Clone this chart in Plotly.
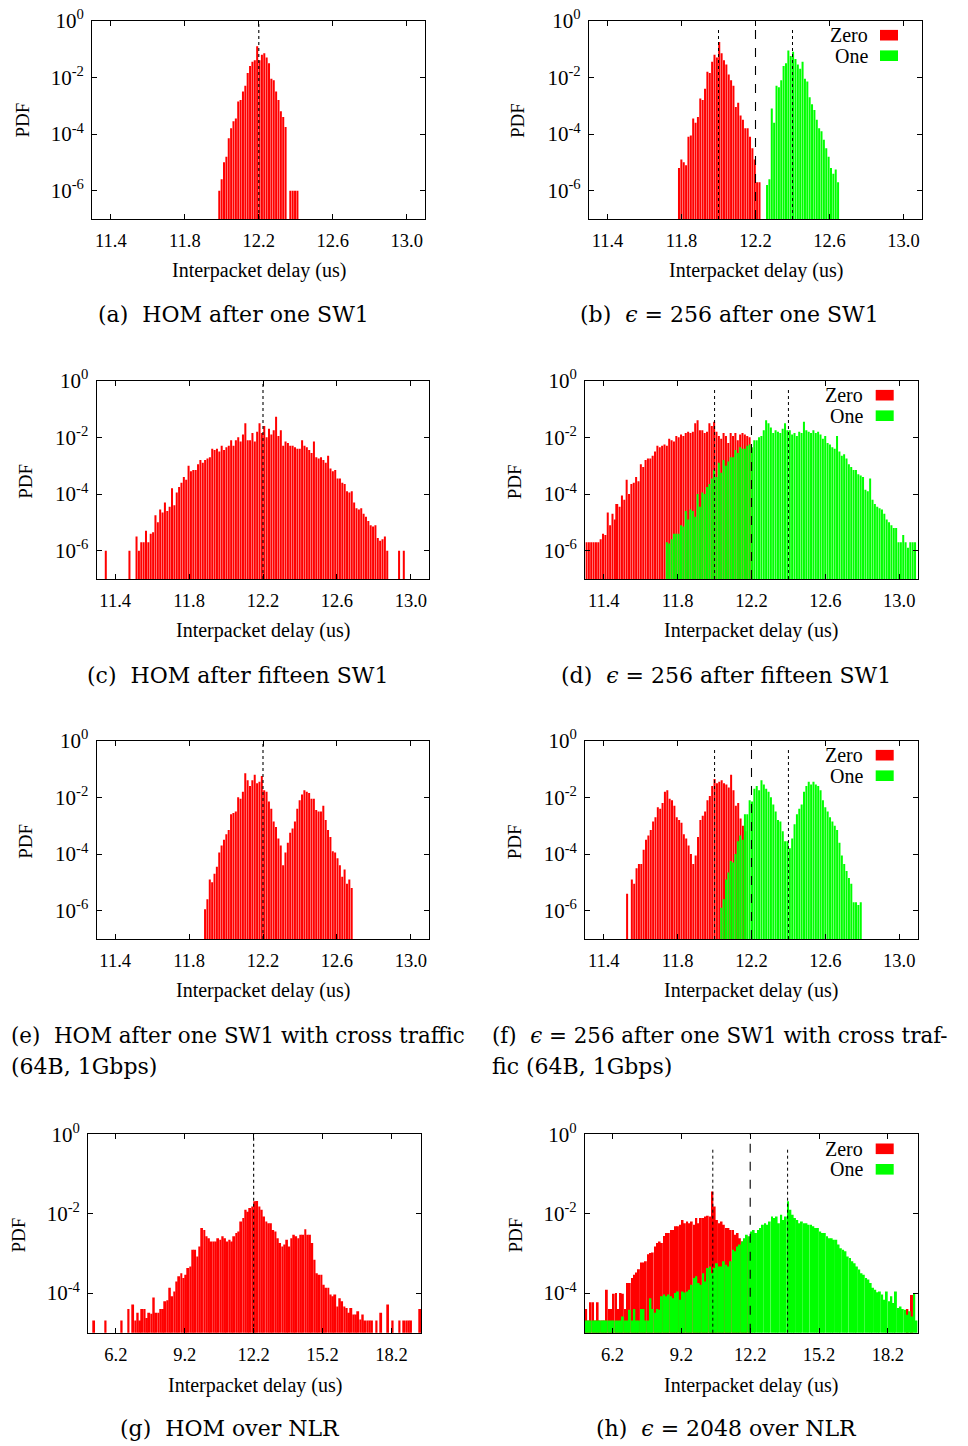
import plotly.graph_objects as go

W, H = 968, 1446
OFF = 8  # page body margin of the browser, compensated in the pixel layout below
RED = "#ff0000"
GREEN = "#00ff00"
SERIF = "Liberation Serif"
XTICK_FONT = dict(family=SERIF, size=18.5, color="black")
YTICK_FONT = dict(family=SERIF, size=21, color="black")
TITLE_FONT = dict(family=SERIF, size=20, color="black")
PDF_FONT = dict(family=SERIF, size=19, color="black")
LEG_FONT = dict(family=SERIF, size=20, color="black")
CAP_FONT = dict(family="DejaVu Serif", size=22, color="black")
CAP_FONT_TIGHT = dict(family="DejaVu Serif", size=21.4, color="black")

# bin widths (us)
SW_BIN = 0.0128
NLR_BIN = 0.1

SW_XTICKS = [11.4, 11.8, 12.2, 12.6, 13.0]
NLR_XTICKS = [6.2, 9.2, 12.2, 15.2, 18.2]
SW_YEXP = [0, -2, -4, -6]
NLR_YEXP = [0, -2, -4]

# ---------------- data: log10(PDF) per bin ----------------
# (a) HOM after one SW1
a_start = 11.98
a_log = [-6.0, -5.6, -5.0, -4.8, -4.15, -3.8, -3.55, -3.45, -2.85, -2.8, -2.5, -2.3,
         -1.85, -1.6, -1.45, -1.4, -0.9, -1.4, -1.2, -1.15, -1.3, -1.5, -2.05, -2.1,
         -2.5, -2.8, -3.2, -3.4, -3.75, None, -6.0, -6.0, -6.0, -6.0]

# (b) eps=256 after one SW1
b_zero_start = 11.78
b_zero_log = [-5.2, -4.9, -5.0, -5.1, -4.1, -4.05, -3.45, -3.6, -3.4, -2.75, -2.8, -2.4,
              -1.8, -1.85, -1.45, -1.2, -1.3, -0.75, -1.15, -1.4, -1.55, -1.9, -2.1, -2.3,
              -3.05, -2.9, -3.35, -3.5, -3.8, -3.8, -4.1, -4.5, -4.9, -5.7, -5.7]
b_one_start = 12.256
b_one_log = [-5.8, -5.6, -3.1, -3.6, -2.3, -2.35, -2.1, -1.6, -1.5, -1.05, -1.25, -1.1,
             -1.35, -1.55, -1.7, -1.45, -2.05, -2.15, -2.7, -2.95, -3.15, -3.5, -3.8, -3.9,
             -4.2, -4.5, -4.8, -5.2, -5.4, -5.25, -5.7]

# (c) HOM after fifteen SW1
c_start = 11.33
c_log = [None, -6.0, None, None, None, None, None, None, None, None, None, -6.0,
         None, None, -5.5, -6.0, -5.7, -5.7, -5.3, -5.7, -5.4, -5.35, -4.75, -5.0,
         -4.55, -4.65, -4.3, -4.6, -4.45, -3.8, -4.4, -3.95, -3.75, -3.6, -3.4, -3.5,
         -3.0, -3.2, -3.15, -3.15, -2.95, -2.8, -2.9, -2.8, -2.75, -2.7, -2.4, -2.45,
         -2.4, -2.5, -2.3, -2.45, -2.35, -2.3, -2.1, -2.3, -2.1, -2.0, -2.15, -1.9,
         -1.5, -2.1, -2.1, -1.85, -2.15, -1.8, -1.5, -1.85, -1.6, -2.0, -1.7, -1.9,
         -1.75, -1.27, -1.95, -1.75, -2.3, -2.15, -2.2, -2.3, -2.3, -2.35, -2.4, -2.4,
         -2.1, -2.3, -2.35, -2.45, -2.55, -2.15, -2.7, -2.75, -2.7, -2.8, -2.9, -2.65,
         -3.1, -3.2, -3.15, -3.45, -3.45, -3.6, -3.65, -3.9, -3.95, -3.9, -4.3, -4.5,
         -4.55, -4.5, -4.7, -4.8, -4.95, -5.1, -5.15, -5.1, -5.55, -5.65, -5.6, -5.5,
         -6.0, None, None, None, None, -6.0, None, -6.0]

# (d) eps=256 after fifteen SW1
d_zero_start = 11.30
d_zero_log = [-5.7, -5.7, -5.7, -5.7, -5.7, -5.7, -5.6, -5.4, -5.45, -4.65, -5.1, -4.7,
              -4.9, -4.35, -4.45, -4.05, -4.2, -3.5, -4.0, -3.65, -3.6, -3.4, -3.55, -2.95,
              -3.05, -2.8, -2.75, -2.75, -2.65, -2.5, -2.3, -2.35, -2.3, -2.25, -2.3, -2.05,
              -2.1, -2.15, -1.95, -2.0, -1.9, -1.95, -1.85, -1.8, -1.85, -1.8, -1.5, -1.4,
              -1.75, -1.75, -1.85, -1.8, -1.5, -1.6, -1.45, -1.8, -1.95, -2.05, -1.85, -1.95,
              -2.2, -1.85, -1.95, -1.85, -2.1, -1.9, -1.85, -1.9, -1.95, -2.0, -2.4]
d_one_start = 11.7352
d_one_log = [-5.7, -5.75, -5.6, -5.4, -5.4, -5.4, -5.1, -5.15, -4.6, -4.9, -4.55, -4.6,
             -4.8, -4.0, -4.45, -3.95, -4.0, -3.75, -3.65, -3.45, -3.15, -3.4, -2.9, -3.25,
             -2.8, -3.0, -2.85, -2.7, -2.7, -2.45, -2.55, -2.35, -2.4, -2.4, -2.3, -2.25,
             -2.35, -2.1, -2.1, -2.0, -1.95, -1.75, -1.4, -1.5, -1.65, -1.85, -1.75, -1.8,
             -1.85, -1.7, -1.5, -1.75, -1.75, -1.9, -1.85, -1.95, -1.8, -1.85, -1.45, -1.75,
             -1.8, -1.85, -1.75, -1.85, -1.8, -1.9, -2.05, -1.95, -2.2, -2.25, -2.35, -2.4,
             -1.95, -2.5, -2.65, -2.6, -2.75, -2.95, -3.05, -3.15, -3.15, -3.3, -3.35, -3.4,
             -3.85, -3.9, -3.45, -4.2, -4.35, -4.45, -4.5, -4.55, -4.7, -4.9, -5.0, -5.1,
             -5.2, -5.2, -5.7, -5.7, -5.45, -5.7, -5.9, -5.7, -5.7, -5.7]

# (e) HOM after one SW1 with cross traffic
e_start = 11.88
e_log = [-5.95, -5.6, -4.9, -5.0, -4.7, -4.45, -3.95, -3.7, -3.5, -3.3, -3.15, -2.6,
         -2.55, -2.5, -2.0, -2.05, -1.8, -1.15, -1.4, -1.6, -1.4, -1.2, -1.5, -1.45,
         -1.25, -1.75, -1.8, -2.15, -2.4, -2.85, -3.05, -3.45, -3.7, -4.4, -3.95, -3.6,
         -3.25, -3.1, -2.85, -2.4, -2.1, -1.9, -1.75, -1.8, -1.85, -2.05, -2.05, -2.45,
         -2.5, -2.5, -2.3, -2.8, -3.15, -3.4, -3.9, -3.95, -4.15, -4.4, -4.8, -4.55,
         -5.05, -4.9, -5.2]

# (f) eps=256 after one SW1 with cross traffic
f_zero_start = 11.52
f_zero_log = [-5.4, None, -4.9, -5.05, -4.5, -4.35, -4.35, -3.85, -3.5, -3.35, -3.15, -2.85,
              -2.7, -2.35, -2.4, -2.2, -1.8, -1.75, -2.05, -2.1, -2.3, -2.7, -2.8, -2.9,
              -3.3, -3.45, -3.7, -4.0, -4.35, -4.05, -3.4, -2.8, -2.65, -2.5, -2.1, -1.95,
              -1.6, -1.35, -1.5, -1.45, -1.4, -1.5, -1.55, -1.65, -1.2, -1.75, -2.3, -2.2,
              -2.75, -3.0, -3.2]
f_one_start = 12.03
f_one_log = [-5.9, -5.6, -4.9, -4.65, -4.25, -4.3, -4.0, -3.55, -3.35, -3.5, -2.6, -2.6,
             -2.1, -2.15, -1.7, -1.6, -1.75, -1.4, -1.55, -1.7, -1.8, -2.0, -2.25, -2.5,
             -2.8, -2.85, -3.2, -3.55, -3.55, -3.8, -3.45, -2.95, -2.6, -2.4, -2.25, -1.8,
             -1.6, -1.45, -1.55, -1.45, -1.55, -1.6, -1.75, -2.1, -2.35, -2.5, -2.7, -2.85,
             -3.0, -3.15, -3.6, -4.05, -4.35, -4.6, -4.85, -5.05, -5.7, -5.7, -5.8, -5.7]

# (g) HOM over NLR
g_start = 5.0
g_log = [None, None, -4.69, None, None, None, None, -4.69, None, None, None, None,
         None, None, -4.69, None, None, -4.40, None, -4.29, -4.69, -4.50, -4.69, -4.40,
         -4.40, -4.63, -4.50, -4.52, -4.11, -4.50, -4.50, -4.40, -4.40, -4.21, -4.18, -3.87,
         -4.08, -3.96, -3.71, -3.58, -3.50, -3.62, -3.54, -3.37, -3.33, -2.91, -2.91, -3.08,
         -2.83, -2.36, -2.41, -2.57, -2.62, -2.70, -2.70, -2.70, -2.62, -2.66, -2.57, -2.62,
         -2.70, -2.66, -2.70, -2.57, -2.49, -2.45, -2.20, -2.11, -1.90, -1.95, -1.86, -1.82,
         -1.69, -1.68, -1.82, -1.90, -2.07, -2.20, -2.24, -2.24, -2.41, -2.45, -2.62, -2.74,
         -2.83, -2.78, -2.66, -2.83, -2.62, -2.53, -2.57, -2.62, -2.53, -2.53, -2.39, -2.53,
         -2.53, -2.74, -3.16, -3.50, -3.54, -3.54, -3.79, -3.87, -3.87, -4.04, -4.08, -4.04,
         -4.34, -4.13, -4.21, -4.34, -4.38, -4.50, -4.38, -4.54, -4.54, -4.46, -4.67, -4.54,
         -4.69, -4.69, -4.69, -4.69, None, -4.69, None, -4.50, None, None, -4.29, None,
         -4.69, None, None, -4.69, None, -4.69, -4.69, -4.69, -4.69, None, None, None,
         -4.40]

# (h) eps=2048 over NLR
h_zero_start = 5.0
h_zero_log = [-4.40, -4.69, -4.23, -4.23, -4.69, -4.23, -4.69, -4.69, -4.69, -3.92, -4.40, -4.40,
              -4.02, -4.00, -4.40, -4.00, -4.02, -4.40, -3.75, -3.75, -3.62, -3.54, -3.48, -3.40,
              -3.23, -3.23, -3.20, -3.02, -2.99, -2.98, -2.83, -2.74, -2.70, -2.74, -2.56, -2.49,
              -2.49, -2.41, -2.41, -2.32, -2.32, -2.28, -2.16, -2.24, -2.20, -2.24, -2.20, -2.28,
              -2.11, -2.24, -2.11, -2.11, -2.07, -2.05, -2.07, -1.44, -1.82, -2.16, -2.24, -2.20,
              -2.28, -2.36, -2.36, -2.41, -2.41, -2.53, -2.49, -2.62, -2.70, -2.78, -2.57, -2.70]
h_zero_tail_start = 19.0
h_zero_tail_log = [-4.40, None, -4.05]
h_one_start = 5.0
h_one_log = [-4.69, -4.69, -4.69, -4.69, -4.69, -4.69, -4.69, -4.69, -4.69, -4.69, -4.69, -4.69,
             -4.69, -4.69, -4.69, -4.69, -4.59, -4.69, -4.69, -4.42, -4.69, -4.40, -4.69, -4.69,
             -4.40, -4.40, -4.69, -4.69, -4.13, -4.40, -4.50, -4.40, -4.42, -4.08, -4.04, -4.08,
             -4.04, -4.08, -4.13, -4.00, -3.96, -4.17, -3.96, -3.99, -3.96, -3.92, -3.79, -3.62,
             -3.58, -3.75, -3.79, -3.50, -3.71, -3.37, -3.33, -3.50, -3.37, -3.25, -3.33, -3.33,
             -3.20, -3.29, -3.33, -3.20, -2.91, -2.95, -2.83, -2.78, -2.70, -2.62, -2.53, -2.57,
             -2.45, -2.41, -2.49, -2.41, -2.36, -2.28, -2.24, -2.28, -2.20, -2.07, -2.11, -2.07,
             -2.24, -2.03, -2.16, -2.07, -1.69, -1.90, -2.03, -2.11, -2.16, -2.24, -2.20, -2.24,
             -2.24, -2.28, -2.28, -2.32, -2.36, -2.36, -2.45, -2.49, -2.49, -2.57, -2.62, -2.62,
             -2.66, -2.66, -2.78, -2.87, -2.91, -2.95, -3.08, -3.12, -3.20, -3.25, -3.33, -3.41,
             -3.50, -3.54, -3.62, -3.66, -3.75, -3.87, -3.92, -3.98, -3.96, -4.04, -4.17, -3.96,
             -4.21, -4.08, -4.25, -3.96, -4.38, -4.34, -4.40, -4.42, -4.55, -4.46, -4.59, -4.00,
             -4.69]

# vertical reference lines (us)
SW_CENTER = [12.2]
SW_SIDES = [12.0, 12.4]
NLR_CENTER = [12.2]
NLR_SIDES = [10.57, 13.83]

# ---------------- layout of the 8 panels (pixel boxes: left, top, right, bottom) ----------------
PANELS = [
    dict(box=(92.3, 20.7, 425.3, 219.0), xrange=[11.3, 13.1], xticks=SW_XTICKS, yrange=[-7, 0], yexp=SW_YEXP,
         series=[(a_start, SW_BIN, a_log, RED)], center=SW_CENTER, center_dash="dot", sides=[], side_top=1.0,
         legend=False, ytitle=(22.5, 120), xtitle=(259, 270.7),
         caption=[("(a)\u00a0\u00a0HOM after one SW1", 233.5, 314, "center", CAP_FONT)]),
    dict(box=(589.0, 20.7, 922.0, 219.0), xrange=[11.3, 13.1], xticks=SW_XTICKS, yrange=[-7, 0], yexp=SW_YEXP,
         series=[(b_zero_start, SW_BIN, b_zero_log, RED), (b_one_start, SW_BIN, b_one_log, GREEN)],
         center=SW_CENTER, center_dash="dash", sides=SW_SIDES, side_top=0.957,
         legend=True, ytitle=(518, 120), xtitle=(755.5, 270.7),
         caption=[("(b)\u00a0\u00a0<i>\u03f5</i> = 256 after one SW1", 729.5, 314, "center", CAP_FONT)]),
    dict(box=(96.7, 380.7, 429.3, 579.0), xrange=[11.3, 13.1], xticks=SW_XTICKS, yrange=[-7, 0], yexp=SW_YEXP,
         series=[(c_start, SW_BIN, c_log, RED)], center=SW_CENTER, center_dash="dot", sides=[], side_top=1.0,
         legend=False, ytitle=(26, 481.7), xtitle=(263, 630.7),
         caption=[("(c)\u00a0\u00a0HOM after fifteen SW1", 237, 675, "center", CAP_FONT)]),
    dict(box=(585.3, 380.7, 917.7, 579.0), xrange=[11.3, 13.1], xticks=SW_XTICKS, yrange=[-7, 0], yexp=SW_YEXP,
         series=[(d_zero_start, SW_BIN, d_zero_log, RED), (d_one_start, SW_BIN, d_one_log, GREEN)],
         center=SW_CENTER, center_dash="dash", sides=SW_SIDES, side_top=0.957,
         legend=True, ytitle=(514.5, 481.7), xtitle=(751, 630.7),
         caption=[("(d)\u00a0\u00a0<i>\u03f5</i> = 256 after fifteen SW1", 725.5, 675, "center", CAP_FONT)]),
    dict(box=(96.7, 740.7, 429.3, 939.0), xrange=[11.3, 13.1], xticks=SW_XTICKS, yrange=[-7, 0], yexp=SW_YEXP,
         series=[(e_start, SW_BIN, e_log, RED)], center=SW_CENTER, center_dash="dot", sides=[], side_top=1.0,
         legend=False, ytitle=(26, 841.7), xtitle=(263, 990.7),
         caption=[("(e)\u00a0\u00a0HOM after one SW1 with cross traffic", 8.5, 1035, "left", CAP_FONT_TIGHT),
                  ("(64B, 1Gbps)", 8.5, 1066.7, "left", CAP_FONT)]),
    dict(box=(585.3, 740.7, 917.7, 939.0), xrange=[11.3, 13.1], xticks=SW_XTICKS, yrange=[-7, 0], yexp=SW_YEXP,
         series=[(f_zero_start, SW_BIN, f_zero_log, RED), (f_one_start, SW_BIN, f_one_log, GREEN)],
         center=SW_CENTER, center_dash="dash", sides=SW_SIDES, side_top=0.957,
         legend=True, ytitle=(514.5, 841.7), xtitle=(751, 990.7),
         caption=[("(f)\u00a0\u00a0<i>\u03f5</i> = 256 after one SW1 with cross traf-", 490, 1035, "left",
                   CAP_FONT_TIGHT),
                  ("fic (64B, 1Gbps)", 490, 1066.7, "left", CAP_FONT)]),
    dict(box=(88.3, 1134.3, 421.3, 1332.7), xrange=[5.0, 19.5], xticks=NLR_XTICKS, yrange=[-5, 0], yexp=NLR_YEXP,
         series=[(g_start, NLR_BIN, g_log, RED)], center=NLR_CENTER, center_dash="dot", sides=[], side_top=1.0,
         legend=False, ytitle=(17.5, 1235), xtitle=(254.7, 1385),
         caption=[("(g)\u00a0\u00a0HOM over NLR", 230, 1428, "center", CAP_FONT)]),
    dict(box=(585.0, 1134.3, 917.7, 1332.7), xrange=[5.0, 19.5], xticks=NLR_XTICKS, yrange=[-5, 0], yexp=NLR_YEXP,
         series=[(h_zero_start, NLR_BIN, h_zero_log, RED), (h_zero_tail_start, NLR_BIN, h_zero_tail_log, RED),
                 (h_one_start, NLR_BIN, h_one_log, GREEN)],
         center=NLR_CENTER, center_dash="dash", sides=NLR_SIDES, side_top=0.934,
         legend=True, ytitle=(514.5, 1235), xtitle=(751, 1385),
         caption=[("(h)\u00a0\u00a0<i>\u03f5</i> = 2048 over NLR", 726.5, 1428, "center", CAP_FONT)]),
]


def px(x):
    return (x - OFF) / W


def py(y):
    return 1 - (y - OFF) / H


fig = go.Figure()
layout = dict(width=W, height=H, margin=dict(l=0, r=0, t=0, b=0, pad=0),
              paper_bgcolor="white", plot_bgcolor="white", barmode="overlay",
              showlegend=False, font=XTICK_FONT)
shapes, annotations = [], []

for k, p in enumerate(PANELS, start=1):
    sx = "" if k == 1 else str(k)
    xa, ya = "x" + sx, "y" + sx
    l, t, r, b = p["box"]
    common = dict(showline=True, linecolor="black", linewidth=1.3, mirror="ticks", ticks="inside",
                  ticklen=5, tickwidth=1, tickcolor="black", showgrid=False, zeroline=False,
                  automargin=False, fixedrange=True, ticklabeloverflow="allow")
    layout["xaxis" + sx] = dict(domain=[px(l), px(r)], anchor=ya, range=p["xrange"],
                                tickvals=p["xticks"], ticktext=[f"{v:.1f}" for v in p["xticks"]],
                                tickfont=XTICK_FONT, ticklabelstandoff=5, **common)
    layout["yaxis" + sx] = dict(domain=[py(b), py(t)], anchor=xa, type="log", range=p["yrange"],
                                tickvals=[10.0 ** e for e in p["yexp"]],
                                ticktext=[f"10<sup>{e}</sup>" for e in p["yexp"]],
                                tickfont=YTICK_FONT, ticklabelstandoff=3, **common)
    for start, bw, logs, color in p["series"]:
        xs = [start + bw * (i + 0.5) for i, v in enumerate(logs) if v is not None]
        ys = [10.0 ** v for v in logs if v is not None]
        fig.add_trace(go.Bar(x=xs, y=ys, width=bw * 0.85, xaxis=xa, yaxis=ya,
                             marker=dict(color=color, line=dict(width=0)), hoverinfo="skip"))
    yd = ya + " domain"
    for v in p["center"]:
        shapes.append(dict(type="line", xref=xa, yref=yd, x0=v, x1=v, y0=0, y1=1,
                           line=dict(color="black", width=1.1, dash=p["center_dash"])))
    for v in p["sides"]:
        shapes.append(dict(type="line", xref=xa, yref=yd, x0=v, x1=v, y0=0, y1=p["side_top"],
                           line=dict(color="black", width=1.0, dash="dot")))
    # axis titles
    annotations.append(dict(text="PDF", x=px(p["ytitle"][0]), y=py(p["ytitle"][1]), xref="paper", yref="paper",
                            textangle=-90, showarrow=False, xanchor="center", yanchor="middle", font=PDF_FONT))
    annotations.append(dict(text="Interpacket delay (us)", x=px(p["xtitle"][0]), y=py(p["xtitle"][1]),
                            xref="paper", yref="paper", showarrow=False, xanchor="center", yanchor="middle",
                            font=TITLE_FONT))
    for text, cx, cy, anc, fnt in p["caption"]:
        annotations.append(dict(text=text, x=px(cx), y=py(cy), xref="paper", yref="paper", showarrow=False,
                                xanchor=anc, yanchor="middle", font=fnt))
    if p["legend"]:
        for j, (name, color) in enumerate([("Zero", RED), ("One", GREEN)]):
            cy = t + 14.5 + 20.5 * j
            annotations.append(dict(text=name, x=px(r - 52.5), y=py(cy), xref="paper", yref="paper",
                                    showarrow=False, xanchor="right", yanchor="middle", font=LEG_FONT))
            shapes.append(dict(type="rect", xref="paper", yref="paper", x0=px(r - 42), x1=px(r - 24),
                               y0=py(cy + 5.3), y1=py(cy - 5.3), fillcolor=color, line=dict(width=0)))

layout["shapes"] = shapes
layout["annotations"] = annotations
fig.update_layout(**layout)
fig.write_html("out.html")
